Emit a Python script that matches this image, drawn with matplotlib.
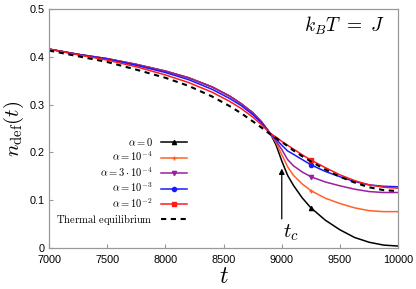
import matplotlib.pyplot as plt

plt.rcParams.update(
    {
        "font.family": "Liberation Sans",
        "mathtext.fontset": "cm",
        "xtick.labelsize": 7.8,
        "ytick.labelsize": 7.8,
    }
)

# data
t = [7000, 7250, 7500, 7750, 8000, 8200, 8400, 8550, 8650, 8750, 8825,
     8900, 8950, 9000, 9050, 9100, 9175, 9250, 9375, 9500, 9625, 9750,
     9875, 10000]

early = [0.416, 0.405, 0.396, 0.384, 0.370, 0.356, 0.337, 0.318, 0.302,
         0.283, 0.264, 0.240]
n_a0 = early + [0.216, 0.182, 0.152, 0.131, 0.105, 0.084, 0.058, 0.038,
                0.022, 0.012, 0.006, 0.004]
n_a1e4 = early + [0.221, 0.195, 0.170, 0.152, 0.134, 0.120, 0.104, 0.093,
                  0.084, 0.078, 0.076, 0.076]
n_a3e4 = early + [0.224, 0.206, 0.185, 0.172, 0.159, 0.149, 0.138, 0.130,
                  0.123, 0.118, 0.116, 0.116]
n_a1e3 = [0.416, 0.405, 0.395, 0.382, 0.367, 0.352, 0.332, 0.313, 0.298,
          0.279, 0.262, 0.240, 0.228, 0.215, 0.203, 0.196, 0.185, 0.174,
          0.160, 0.149, 0.139, 0.132, 0.129, 0.128]
n_a1e2 = [0.416, 0.404, 0.393, 0.379, 0.362, 0.346, 0.326, 0.307, 0.292,
          0.274, 0.258, 0.240, 0.232, 0.223, 0.215, 0.207, 0.195, 0.184,
          0.168, 0.153, 0.141, 0.132, 0.127, 0.125]
n_eq = [0.413, 0.401, 0.389, 0.373, 0.356, 0.339, 0.317, 0.297, 0.282,
        0.265, 0.252, 0.238, 0.230, 0.222, 0.213, 0.204, 0.192, 0.181,
        0.164, 0.149, 0.137, 0.127, 0.121, 0.119]

labels = [r"$\alpha = 0$", r"$\alpha = 10^{-4}$", r"$\alpha = 3\cdot10^{-4}$",
          r"$\alpha = 10^{-3}$", r"$\alpha = 10^{-2}$"]
series = [n_a0, n_a1e4, n_a3e4, n_a1e3, n_a1e2]
colors = ["black", "#ff6128", "#9a1fa0", "#1a1aff", "#ff1a1a"]
markers = ["^", "+", "v", "o", "s"]
mark_idx = t.index(9250)

fig = plt.figure(figsize=(4.16, 2.89), dpi=100)
ax = fig.add_axes([0.118, 0.142, 0.839, 0.827])

for y, lab, c, m in zip(series, labels, colors, markers):
    ax.plot(t, y, color=c, lw=1.1, marker=m, ms=3, mew=1,
            markevery=[mark_idx], label=lab)
ax.plot(t, n_eq, color="black", lw=1.5, ls=(0, (2.5, 2.2)),
        label=r"$\mathrm{Thermal\ equilibrium}$")

ax.set_xlim(7000, 10000)
ax.set_ylim(0, 0.5)
ax.set_xticks([7000, 7500, 8000, 8500, 9000, 9500, 10000])
ax.set_yticks([0, 0.1, 0.2, 0.3, 0.4, 0.5])
ax.set_yticklabels(["0", "0.1", "0.2", "0.3", "0.4", "0.5"])
ax.tick_params(direction="in", length=3, color="#999999")
ax.tick_params(axis="x", pad=5)
ax.tick_params(axis="y", pad=3)
for s in ax.spines.values():
    s.set_color("#999999")
    s.set_linewidth(0.9)

ax.set_xlabel(r"$t$", fontsize=17, labelpad=1)
ax.set_ylabel(r"$n_{\rm def}(t)$", fontsize=15, labelpad=3)

ax.text(0.845, 0.93, r"$k_BT\ =\ J$", transform=ax.transAxes,
        ha="center", va="center", fontsize=14)

# critical time arrow
ax.annotate("", xy=(9000, 0.172), xytext=(9000, 0.055),
            arrowprops=dict(arrowstyle="-|>", color="black", lw=0.9,
                            mutation_scale=8))
ax.text(9075, 0.032, r"$t_c$", ha="center", va="center", fontsize=15)

ax.legend(loc="upper left", bbox_to_anchor=(0.0, 0.50), frameon=False,
          markerfirst=False, fontsize=7.6, handlelength=2.5,
          labelspacing=0.18, handletextpad=0.7, borderaxespad=0.3)

fig.savefig("out.png", dpi=100)
